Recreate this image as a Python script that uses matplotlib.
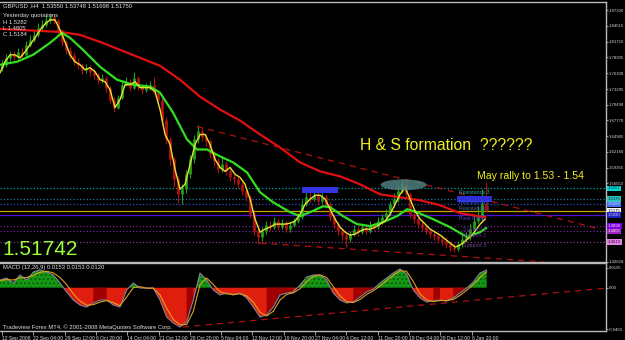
import matplotlib
matplotlib.use("Agg")
import matplotlib.pyplot as plt
import numpy as np
from matplotlib.patches import Rectangle, Ellipse

# ---------------- data ----------------
# price samples (H4 chart, one sample ~ 5.6 bars)
close = [1.7760, 1.7884, 1.7937, 1.7902, 1.7990, 1.7937, 1.8114, 1.8202, 1.8291, 1.8414,
         1.8467, 1.8556, 1.8609, 1.8556, 1.8379, 1.8167, 1.8025, 1.7937, 1.7813, 1.7760,
         1.7672, 1.7707, 1.7637, 1.7584, 1.7495, 1.7531, 1.7354, 1.7142, 1.7001, 1.7177,
         1.7407, 1.7460, 1.7354, 1.7531, 1.7389, 1.7319, 1.7354, 1.7407, 1.7283, 1.7142,
         1.6789, 1.6435, 1.6082, 1.5728, 1.5463, 1.5552, 1.5817, 1.6082, 1.6435, 1.6577,
         1.6471, 1.6400, 1.6170, 1.6046, 1.5905, 1.5993, 1.5870, 1.5764, 1.5728, 1.5640,
         1.5516, 1.5410, 1.5110, 1.4810, 1.4704, 1.4810, 1.4916, 1.4880, 1.4986, 1.4880,
         1.4951, 1.4845, 1.4916, 1.4986, 1.5057, 1.5287, 1.5410, 1.5375, 1.5446, 1.5340,
         1.5410, 1.5287, 1.5057, 1.4933, 1.4810, 1.4739, 1.4668, 1.4757, 1.4845, 1.4792,
         1.4880, 1.4810, 1.4916, 1.4880, 1.4986, 1.5057, 1.5128, 1.5287, 1.5375, 1.5516,
         1.5640, 1.5463, 1.5110, 1.5022, 1.4933, 1.4880, 1.4810, 1.4757, 1.4721, 1.4668,
         1.4633, 1.4580, 1.4527, 1.4491, 1.4580, 1.4668, 1.4704, 1.4845, 1.4986, 1.5057,
         1.5287, 1.5174]
high = [1.7850, 1.7950, 1.8010, 1.8000, 1.8060, 1.8050, 1.8180, 1.8290, 1.8380, 1.8500,
        1.8560, 1.8640, 1.8680, 1.8660, 1.8580, 1.8400, 1.8200, 1.8080, 1.7990, 1.7880,
        1.7800, 1.7780, 1.7750, 1.7690, 1.7620, 1.7600, 1.7560, 1.7380, 1.7180, 1.7230,
        1.7470, 1.7540, 1.7500, 1.7640, 1.7560, 1.7420, 1.7430, 1.7480, 1.7550, 1.7320,
        1.7180, 1.6830, 1.6480, 1.6120, 1.5780, 1.5650, 1.5900, 1.6160, 1.6520, 1.6700,
        1.6650, 1.6530, 1.6450, 1.6230, 1.6100, 1.6150, 1.6060, 1.5920, 1.5820, 1.5780,
        1.5700, 1.5560, 1.5450, 1.5150, 1.4860, 1.4880, 1.4990, 1.4990, 1.5060, 1.5020,
        1.5030, 1.4990, 1.4980, 1.5050, 1.5130, 1.5360, 1.5500, 1.5530, 1.5550, 1.5500,
        1.5480, 1.5450, 1.5320, 1.5100, 1.4980, 1.4850, 1.4780, 1.4820, 1.4920, 1.4900,
        1.4950, 1.4930, 1.4990, 1.4980, 1.5060, 1.5120, 1.5200, 1.5350, 1.5480, 1.5620,
        1.5728, 1.5700, 1.5500, 1.5170, 1.5080, 1.5000, 1.4940, 1.4870, 1.4820, 1.4780,
        1.4740, 1.4700, 1.4640, 1.4600, 1.4640, 1.4740, 1.4800, 1.4930, 1.5080, 1.5250,
        1.5550, 1.5675]
low = [1.7650, 1.7720, 1.7830, 1.7850, 1.7860, 1.7880, 1.7900, 1.8080, 1.8170, 1.8250,
       1.8370, 1.8430, 1.8500, 1.8480, 1.8300, 1.8100, 1.7950, 1.7860, 1.7750, 1.7680,
       1.7600, 1.7620, 1.7560, 1.7500, 1.7420, 1.7440, 1.7280, 1.7080, 1.6920, 1.6980,
       1.7150, 1.7380, 1.7290, 1.7330, 1.7320, 1.7250, 1.7280, 1.7320, 1.7240, 1.7080,
       1.6700, 1.6350, 1.5980, 1.5600, 1.5300, 1.5290, 1.5480, 1.5750, 1.6020, 1.6380,
       1.6400, 1.6320, 1.6100, 1.5970, 1.5840, 1.5860, 1.5800, 1.5700, 1.5650, 1.5580,
       1.5450, 1.5350, 1.5040, 1.4740, 1.4580, 1.4640, 1.4760, 1.4820, 1.4850, 1.4830,
       1.4840, 1.4790, 1.4800, 1.4880, 1.4950, 1.5020, 1.5250, 1.5320, 1.5350, 1.5280,
       1.5300, 1.5220, 1.4990, 1.4870, 1.4740, 1.4660, 1.4530, 1.4620, 1.4720, 1.4730,
       1.4760, 1.4750, 1.4770, 1.4820, 1.4850, 1.4930, 1.5000, 1.5080, 1.5240, 1.5330,
       1.5480, 1.5400, 1.5040, 1.4960, 1.4870, 1.4810, 1.4750, 1.4690, 1.4650, 1.4600,
       1.4560, 1.4510, 1.4460, 1.4438, 1.4450, 1.4530, 1.4620, 1.4660, 1.4800, 1.4950,
       1.5000, 1.5140]
first_open = 1.7700
bars_per_sample = 5.62

# fast MA (yellow), sampled every ~7 bars
ma_fast = [1.7619, 1.7814, 1.7937, 1.7937, 1.7884, 1.7990, 1.8114, 1.8238, 1.8379, 1.8485,
           1.8556, 1.8556, 1.8379, 1.8167, 1.7937, 1.7814, 1.7761, 1.7672, 1.7708, 1.7637,
           1.7495, 1.7460, 1.7319, 1.7001, 1.7142, 1.7407, 1.7407, 1.7460, 1.7354, 1.7354,
           1.7354, 1.7284, 1.6965, 1.6524, 1.6347, 1.5905, 1.5552, 1.5640, 1.5994, 1.6347,
           1.6524, 1.6524, 1.6347, 1.6082, 1.5940, 1.5870, 1.5940, 1.5817, 1.5763, 1.5640,
           1.5375, 1.5022, 1.4792, 1.4845, 1.4880, 1.4934, 1.4934, 1.4934, 1.4951, 1.4987,
           1.5110, 1.5287, 1.5375, 1.5446, 1.5446, 1.5375, 1.5198, 1.5022, 1.4880, 1.4792,
           1.4739, 1.4757, 1.4810, 1.4845, 1.4845, 1.4880, 1.4934, 1.4987, 1.5110, 1.5287,
           1.5463, 1.5587, 1.5375, 1.5163, 1.5022, 1.4934, 1.4845, 1.4792, 1.4739, 1.4668,
           1.4597, 1.4527, 1.4562, 1.4633, 1.4704, 1.4810, 1.4934, 1.5022]
ma_fast_step = 7.03

# medium MA (green)
ma_mid_bar = [-2.8, 21.1, 43.6, 67.5, 84.3, 95.6, 113.9, 137.8, 161.7, 184.2, 208.1, 222.1,
              240.4, 260.1, 274.1, 288.2, 306.5, 324.8, 344.4, 362.7, 381.0, 404.9, 418.9,
              433.0, 451.3, 461.1, 479.4, 499.1, 517.4, 535.6, 555.3, 569.4, 583.4, 605.9,
              629.8, 653.7, 672.0, 680.4]
ma_mid = [1.7761, 1.7814, 1.7937, 1.8149, 1.8326, 1.8238, 1.8025, 1.7725, 1.7495, 1.7407,
          1.7372, 1.7266, 1.6912, 1.6435, 1.6258, 1.6258, 1.6135, 1.6029, 1.5852, 1.5499,
          1.5322, 1.5145, 1.5075, 1.5145, 1.5251, 1.5234, 1.5075, 1.4934, 1.4898, 1.4969,
          1.5075, 1.5198, 1.5145, 1.5022, 1.4880, 1.4704, 1.4792, 1.4863]

# slow MA (red)
ma_slow_bar = [-2.8, 53.4, 81.5, 109.7, 137.8, 165.9, 194.0, 222.1, 250.2, 278.3, 306.5,
               334.6, 362.7, 390.8, 418.9, 447.0, 475.2, 503.3, 531.4, 559.5, 587.6, 615.7,
               643.9, 679.0]
ma_slow = [1.8397, 1.8361, 1.8344, 1.8291, 1.8167, 1.8025, 1.7884, 1.7743, 1.7495, 1.7195,
           1.6965, 1.6771, 1.6524, 1.6294, 1.6029, 1.5870, 1.5781, 1.5640, 1.5463, 1.5410,
           1.5357, 1.5269, 1.5128, 1.5057]

# pivot levels
levels = [1.5567, 1.5375, 1.5282, 1.5175, 1.5090, 1.4898, 1.4805, 1.4613]
level_tags = ["1.5567", "1.5375", "1.5282", "1.5175", "1.5090", "1.4898", "1.4805", "1.4613"]
level_names = ["Resistance 3", "Resistance 2", "Resistance 1", "Pivot Point",
               "Support 1", "Support 2", "Support 3"]
level_name_prices = [1.5499, 1.5322, 1.5216, 1.5039, 1.4845, 1.4739, 1.4562]

# trend lines (bar, price)
upper_tl = ([274.1, 840.7], [1.6665, 1.4845])
lower_tl = ([362.7, 763.3], [1.4597, 1.4262])
macd_tl = ([254.4, 850.5], [-0.0383, -0.0003])

# MACD
macd = [0.0075, 0.0095, 0.0046, 0.0124, 0.0075, 0.0153, 0.0173, 0.0153, 0.0124, 0.0046,
        -0.0042, -0.0120, -0.0169, -0.0188, -0.0149, -0.0120, -0.0120, -0.0169, -0.0188, -0.0022,
        0.0046, -0.0003, -0.0003, -0.0003, -0.0120, -0.0286, -0.0344, -0.0383, -0.0335, -0.0120,
        0.0143, 0.0075, -0.0022, -0.0071, -0.0052, -0.0071, -0.0052, -0.0100, -0.0188, -0.0286,
        -0.0266, -0.0188, -0.0071, -0.0052, -0.0042, 0.0026, 0.0104, 0.0124, 0.0124, 0.0075,
        -0.0052, -0.0120, -0.0149, -0.0139, -0.0091, -0.0042, -0.0013, 0.0046, 0.0095, 0.0143,
        0.0182, 0.0134, -0.0022, -0.0100, -0.0139, -0.0130, -0.0120, -0.0130, -0.0100, -0.0052,
        -0.0003, 0.0055, 0.0143, 0.0173]
signal = [0.0070, 0.0080, 0.0075, 0.0095, 0.0100, 0.0120, 0.0150, 0.0160, 0.0145, 0.0100,
          0.0030, -0.0060, -0.0130, -0.0170, -0.0165, -0.0140, -0.0125, -0.0145, -0.0175, -0.0090,
          0.0000, 0.0010, -0.0005, -0.0005, -0.0070, -0.0200, -0.0310, -0.0360, -0.0360, -0.0230,
          0.0030, 0.0095, 0.0030, -0.0040, -0.0060, -0.0065, -0.0060, -0.0080, -0.0140, -0.0240,
          -0.0275, -0.0230, -0.0120, -0.0065, -0.0050, -0.0010, 0.0060, 0.0110, 0.0125, 0.0100,
          0.0010, -0.0080, -0.0135, -0.0145, -0.0115, -0.0065, -0.0030, 0.0015, 0.0070, 0.0120,
          0.0165, 0.0160, 0.0060, -0.0060, -0.0120, -0.0135, -0.0125, -0.0125, -0.0115, -0.0075,
          -0.0025, 0.0030, 0.0100, 0.0155]
macd_step = 9.37

price_ticks = [1.87320, 1.84515, 1.81710, 1.78905, 1.76100, 1.73295, 1.70490, 1.67770,
               1.64965, 1.62160, 1.59355, 1.56550, 1.42618]
date_labels = ["12 Sep 2008", "22 Sep 04:00", "29 Sep 12:00", "6 Oct 20:00", "14 Oct 04:00",
               "21 Oct 12:00", "28 Oct 20:00", "5 Nov 04:00", "12 Nov 12:00", "19 Nov 20:00",
               "27 Nov 04:00", "4 Dec 12:00", "11 Dec 20:00", "19 Dec 04:00", "29 Dec 12:00",
               "6 Jan 20:00"]
bars_per_label = 44

# ---------------- drawing ----------------
W, H = 625, 340
SMALL = 3.6
AXF = 3.1
plt.rcParams['font.family'] = ['Liberation Sans', 'DejaVu Sans']
fig = plt.figure(figsize=(W / 100, H / 100), dpi=100, facecolor='black')
ax = fig.add_axes([0, 1 - 262 / H, 606 / W, 260 / H], facecolor='black')
ax2 = fig.add_axes([0, 1 - 331 / H, 606 / W, 68 / H], facecolor='black')
XL = (-2.8, 849.0)
for a in (ax, ax2):
    a.set_xlim(*XL)
    for s in a.spines.values():
        s.set_color('#b8b8b8')
        s.set_linewidth(1.0)
    a.spines['left'].set_visible(False)
ax.set_ylim(1.4279, 1.8874)
ax2.set_ylim(-0.0422, 0.0241)

# pivot level lines
lv_styles = [('#00a8a8', ':'), ('#1f7f9f', ':'), ('#3050c8', ':'), ('#c8a000', '-'),
             ('#4a10d0', '-'), ('#6a2090', ':'), ('#7a2a9a', ':'), ('#8a3a8a', ':')]
for p, (c, ls) in zip(levels, lv_styles):
    ax.axhline(p, color=c, ls=ls, lw=0.9, zorder=1)

# candles
c_arr = np.array(close)
o_arr = np.r_[first_open, c_arr[:-1]]
xs = np.arange(len(close)) * bars_per_sample
up = c_arr >= o_arr
cols = np.where(up, '#1ea01e', '#b01010')
ax.vlines(xs, low, high, colors=cols, lw=0.8, zorder=2)
ax.vlines(xs, np.minimum(o_arr, c_arr), np.maximum(o_arr, c_arr), colors=cols, lw=2.0, zorder=2)

# moving averages
ax.plot(np.array(ma_slow_bar), ma_slow, color='#e01010', lw=1.6, zorder=3)
ax.plot(np.array(ma_mid_bar), ma_mid, color='#30e020', lw=1.6, zorder=4)
ax.plot(np.arange(len(ma_fast)) * ma_fast_step - 2.8, ma_fast, color='#e8e030', lw=1.0, zorder=5)

# trend lines
ax.plot(*upper_tl, color='#b01010', lw=0.9, ls=(0, (5, 4)), zorder=3)
ax.plot(*lower_tl, color='#b01010', lw=0.9, ls=(0, (5, 4)), zorder=3)

# annotations: boxes and ellipse
ax.add_patch(Rectangle((421.7, 1.5481), 50.7, 0.0106, fc='#3535e0', ec='none', zorder=6))
ax.add_patch(Rectangle((639.6, 1.5322), 49.2, 0.0106, fc='#3030d8', ec='none', zorder=6))
ax.add_patch(Ellipse((564.4, 1.5631), 64.7, 0.0194, fc='#4f7e7e', ec='none', alpha=0.85,
                     hatch='....', zorder=6))

name_cols = ['#20a8a8', '#3a5cff', '#5868a0', '#6a38d8', '#5a2a8a', '#6a2a9a', '#7a4a9a']
for nm, pr, nc in zip(level_names, level_name_prices, name_cols):
    ax.text(642.5 if 'Sup' not in nm else 648, pr, nm, color=nc, fontsize=3.8,
            va='center', ha='left', zorder=7)

# right axis price ticks
ax.yaxis.tick_right()
ax.set_yticks(price_ticks)
ax.set_yticklabels([f"{t:.5f}" for t in price_ticks])
ax.tick_params(axis='y', colors='#b8b8b8', labelcolor='#d8d8d8', labelsize=AXF,
               length=1.5, width=0.6, pad=0.5)
ax.set_xticks([])

# price tags on right
tag_cols = ['#00d8d8', '#30c0c0', '#4070f0', '#ffffff', '#2020c0', '#8000e0', '#a020c0', '#e080e0']
tag_txt = ['#003030', '#003030', '#e0e0ff', '#000000', '#d0d0ff', '#f0d0ff', '#f0d0ff', '#400040']
for p, t, fc, tc in zip(levels, level_tags, tag_cols, tag_txt):
    ax.annotate(t, xy=(1.0, p), xycoords=('axes fraction', 'data'), xytext=(1.2, 0),
                textcoords='offset points', fontsize=3.1, color=tc, va='center', ha='left',
                bbox=dict(boxstyle='square,pad=0.2', fc=fc, ec='none'),
                annotation_clip=False, zorder=8)

# MACD panel
mx = np.arange(len(macd)) * macd_step - 2.8
m = np.array(macd)
rising = np.r_[True, np.diff(m) >= 0]
ax2.fill_between(mx, 0, m, where=m >= 0, interpolate=True, color='#149a14', lw=0)
ax2.fill_between(mx, 0, m, where=m >= 0, interpolate=True, facecolor='none',
                 edgecolor='#0b5a0b', hatch='....', lw=0)
ax2.fill_between(mx, 0, m, where=m < 0, interpolate=True, color='#e01e0e', lw=0)
ax2.fill_between(mx, 0, m, where=(m < 0) & rising, interpolate=False, color='#a00000', lw=0)
ax2.plot(mx, m, color='#8080a0', lw=0.8)
ax2.plot(mx, signal, color='#e0a020', lw=0.8)
ax2.plot(*macd_tl, color='#b01010', lw=0.9, ls=(0, (5, 4)))
ax2.yaxis.tick_right()
ax2.set_yticks([0.0195, 0.0, -0.0403])
ax2.set_yticklabels(['0.0195', '0.00', '-0.0403'])
ax2.tick_params(axis='y', colors='#b8b8b8', labelcolor='#d8d8d8', labelsize=AXF,
                length=1.5, width=0.6, pad=0.5)
ax2.set_xticks(np.arange(len(date_labels)) * bars_per_label)
ax2.set_xticklabels(date_labels, ha='left')
ax2.tick_params(axis='x', colors='#b8b8b8', labelcolor='#d8d8d8', labelsize=SMALL,
                length=3, width=0.6, pad=0.5)

# texts (figure pixel coords)
def ftext(x, y, s, **kw):
    fig.text(x / W, 1 - y / H, s, **kw)

TS = 4.2
ftext(3, 6, "GBPUSD ,H4  1.53550 1.53748 1.51698 1.51750", color='#e0e0e0', fontsize=TS, va='center')
ftext(3, 16, "Yesterday quotations", color='#e0e0e0', fontsize=TS, va='center')
ftext(3, 22, "H 1.5282", color='#e0e0e0', fontsize=TS, va='center')
ftext(3, 28, "L 1.4805", color='#e0e0e0', fontsize=TS, va='center')
ftext(3, 34, "C 1.5184", color='#e0e0e0', fontsize=TS, va='center')
ftext(2, 255, "1.51742", color='#9cff3a', fontsize=15, va='baseline')
ftext(360, 150, "H & S formation  ??????", color='#f0f020', fontsize=11.3, va='baseline')
ftext(477, 179, "May rally to 1.53 - 1.54", color='#f0f020', fontsize=7.6, va='baseline')
ftext(3, 268, "MACD (12,26,9) 0.0153 0.0153 0.0120", color='#e0e0e0', fontsize=TS, va='center')
ftext(3, 327, "Tradeview Forex MT4, \u00a9 2001-2008 MetaQuotes Software Corp.", color='#e0e0e0',
      fontsize=TS, va='center')

fig.savefig("out.png", dpi=100, facecolor='black')
